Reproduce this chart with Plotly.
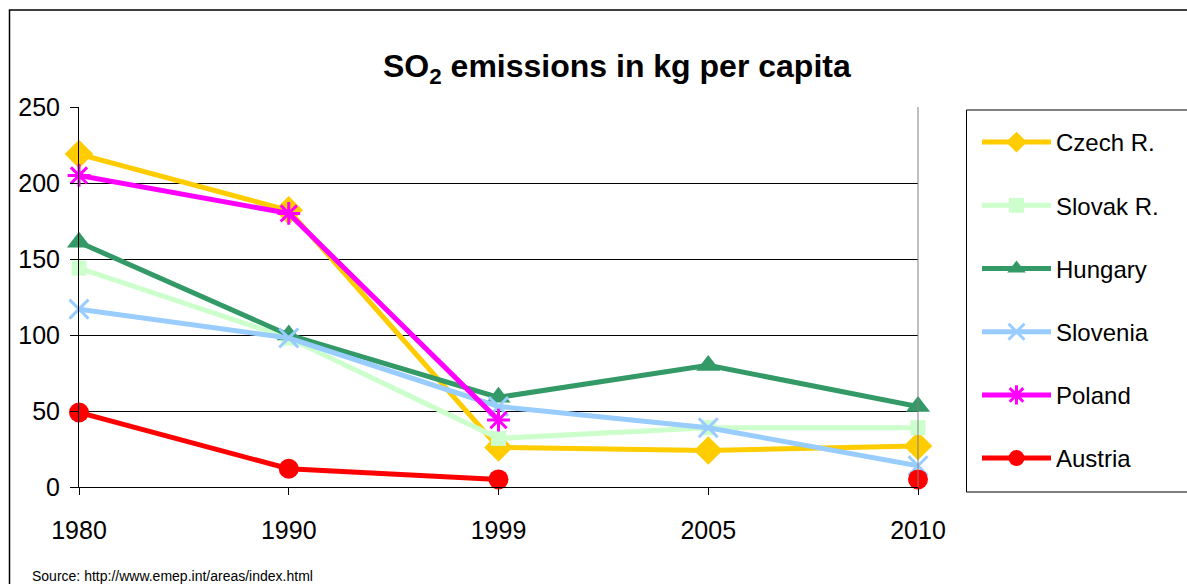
import plotly.graph_objects as go

years = ["1980", "1990", "1999", "2005", "2010"]

czech = [219, 182, 26, 24, 27]
slovak = [144, 98, 32, 39, 39]
hungary = [161, 100, 59, 80, 53]
slovenia = [117, 98, 53, 39, 14]
poland = [205, 180, 44, None, None]
austria = [49, 12, 5, None, 5]

series = [
    ("Czech R.", czech, "#FFCC00", "diamond", 22, 0),
    ("Slovak R.", slovak, "#CCFFCC", "square", 15, 0),
    ("Hungary", hungary, "#339966", "triangle-up", 21, 0),
    ("Slovenia", slovenia, "#99CCFF", "x-thin-open", 19, 3),
    ("Poland", poland, "#FF00FF", "asterisk-open", 19, 3),
    ("Austria", austria, "#FF0000", "circle", 20, 0),
]

W, H = 1187, 584
L, R, T, B = 79, 918, 107, 487


def px_x(x):
    return (x - L) / (R - L)


def px_y(y):
    return (B - y) / (B - T)


fig = go.Figure()
for i, (name, vals, color, sym, size, lw) in enumerate(series):
    marker = dict(symbol=sym, size=size, color=color)
    if lw:
        marker["line"] = dict(color=color, width=lw)
    else:
        marker["line"] = dict(width=0)
    fig.add_trace(go.Scatter(
        x=years, y=vals, name=name, mode="lines+markers",
        line=dict(color=color, width=5), marker=marker,
        connectgaps=False, cliponaxis=False, legendgroup=f"g{i}",
    ))

fig.update_layout(
    width=W, height=H,
    margin=dict(l=L, r=W - R, t=T, b=H - B),
    paper_bgcolor="white", plot_bgcolor="white",
    font=dict(family="Liberation Sans, Arial, sans-serif", color="black"),
    showlegend=True,
    legend=dict(
        x=px_x(977), y=px_y(120), xanchor="left", yanchor="top",
        font=dict(size=24), bgcolor="rgba(0,0,0,0)",
        tracegroupgap=29, itemwidth=69,
    ),
    xaxis=dict(
        type="category", range=[0, 4], showgrid=False,
        showline=True, linecolor="black", linewidth=1,
        ticks="outside", ticklen=7, tickcolor="black",
        tickfont=dict(size=25), zeroline=False, ticklabelstandoff=14,
    ),
    yaxis=dict(
        range=[0, 250], dtick=50, showgrid=True, gridcolor="black", gridwidth=1,
        showline=True, linecolor="black", linewidth=1,
        ticks="outside", ticklen=8, tickcolor="black",
        tickfont=dict(size=25), zeroline=False, ticklabelstandoff=5,
    ),
    shapes=[
        # outer frame
        dict(type="rect", xref="paper", yref="paper",
             x0=px_x(9.5), x1=px_x(1200), y0=px_y(600), y1=px_y(10),
             line=dict(color="black", width=1.5), layer="below"),
        # right border of plot area
        dict(type="line", xref="paper", yref="paper",
             x0=1, x1=1, y0=0, y1=1, line=dict(color="#808080", width=1)),
        # legend box
        dict(type="rect", xref="paper", yref="paper",
             x0=px_x(966.5), x1=px_x(1200), y0=px_y(492), y1=px_y(110),
             line=dict(color="black", width=1)),
    ],
    annotations=[
        dict(text="<b>SO<sub>2</sub> emissions in kg per capita</b>",
             xref="paper", yref="paper", x=px_x(617), y=px_y(68),
             xanchor="center", yanchor="middle", showarrow=False,
             font=dict(size=32)),
        dict(text="Source: http://www.emep.int/areas/index.html",
             xref="paper", yref="paper", x=px_x(30), y=px_y(576),
             xanchor="left", yanchor="middle", showarrow=False,
             font=dict(size=14)),
    ],
)

fig.write_html("out.html")
